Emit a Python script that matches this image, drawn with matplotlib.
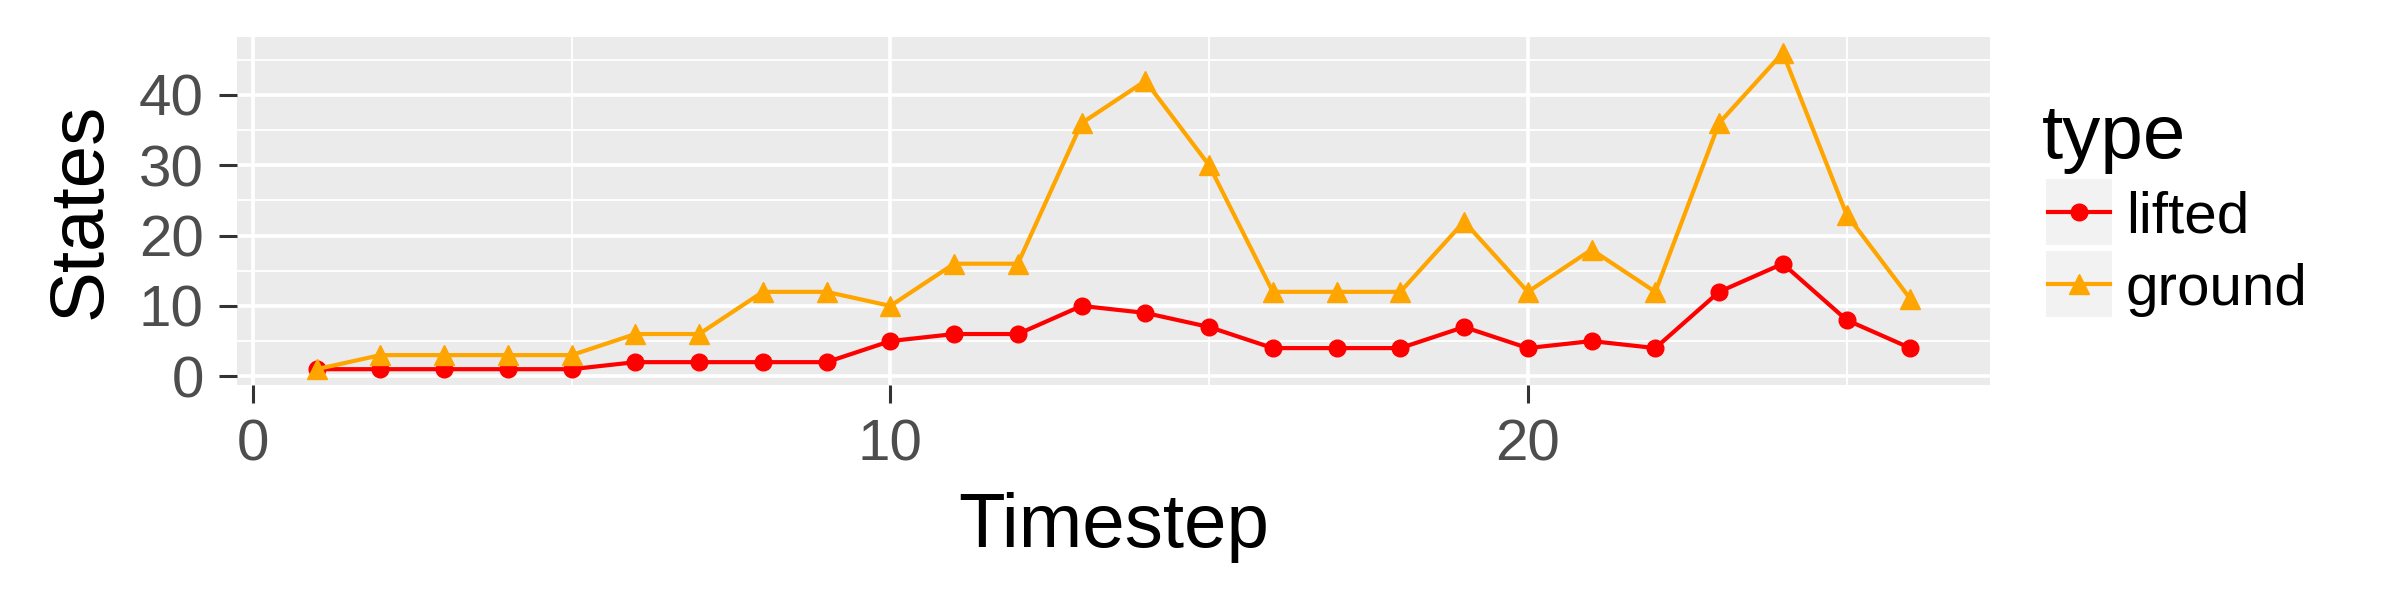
import matplotlib
matplotlib.use("Agg")
import matplotlib.pyplot as plt
from matplotlib.lines import Line2D
from matplotlib.patches import Rectangle

plt.rcParams['font.family'] = ['Liberation Sans', 'DejaVu Sans']

# data
timestep = list(range(1, 27))
lifted = [1, 1, 1, 1, 1, 2, 2, 2, 2, 5, 6, 6, 10, 9, 7, 4, 4, 4, 7, 4, 5, 4, 12, 16, 8, 4]
ground = [1, 3, 3, 3, 3, 6, 6, 12, 12, 10, 16, 16, 36, 42, 30, 12, 12, 12, 22, 12, 18, 12, 36, 46, 23, 11]
x_ticks = [0, 10, 20]
y_ticks = [0, 10, 20, 30, 40]

W, H = 2400, 600
fig = plt.figure(figsize=(24, 6), dpi=100)
ax = fig.add_axes([237 / W, 1 - 385 / H, (1990 - 237) / W, (385 - 37) / H])

ax.set_facecolor('#EBEBEB')
for s in ax.spines.values():
    s.set_visible(False)

# ggplot style 5% expansion
ax.set_xlim(-0.25, 27.25)
ax.set_ylim(-1.25, 48.25)
ax.set_xticks(x_ticks)
ax.set_yticks(y_ticks)
ax.set_xticks([5, 15, 25], minor=True)
ax.set_yticks([5, 15, 25, 35, 45], minor=True)
ax.grid(which='major', color='white', linewidth=2.6)
ax.grid(which='minor', color='white', linewidth=1.3)
ax.set_axisbelow(True)
ax.tick_params(which='major', length=13, width=2.2, color='#333333',
               labelsize=42, labelcolor='#4D4D4D', pad=11)
ax.tick_params(which='minor', length=0)

ax.plot(timestep, lifted, color='#FF0000', linewidth=3, marker='o',
        markersize=12, label='lifted')
ax.plot(timestep, ground, color='#FFA500', linewidth=3, marker='^',
        markersize=14, label='ground')

ax.set_xlabel('Timestep', fontsize=55, color='black', labelpad=14)
ax.set_ylabel('States', fontsize=55, color='black', labelpad=16)

# legend drawn in figure pixels, ggplot style keys
def fx(px):
    return px / W

def fy(py):
    return 1 - py / H

fig.text(fx(2042), fy(158), 'type', fontsize=55, ha='left', va='baseline')
keys = [('lifted', '#FF0000', 'o', 12, 212), ('ground', '#FFA500', '^', 14, 284)]
for name, col, mk, ms, cy in keys:
    fig.add_artist(Rectangle((fx(2045), fy(cy + 34)), 68 / W, 68 / H,
                             transform=fig.transFigure, facecolor='#F2F2F2',
                             edgecolor='white', linewidth=1.5))
    fig.add_artist(Line2D([fx(2048), fx(2110)], [fy(cy), fy(cy)],
                          transform=fig.transFigure, color=col, linewidth=3))
    fig.add_artist(Line2D([fx(2079)], [fy(cy)], transform=fig.transFigure,
                          color=col, marker=mk, markersize=ms, linestyle='none'))
    fig.text(fx(2126), fy(cy), name, fontsize=42, ha='left', va='center_baseline')

fig.savefig('out.png', dpi=100, facecolor='white')
